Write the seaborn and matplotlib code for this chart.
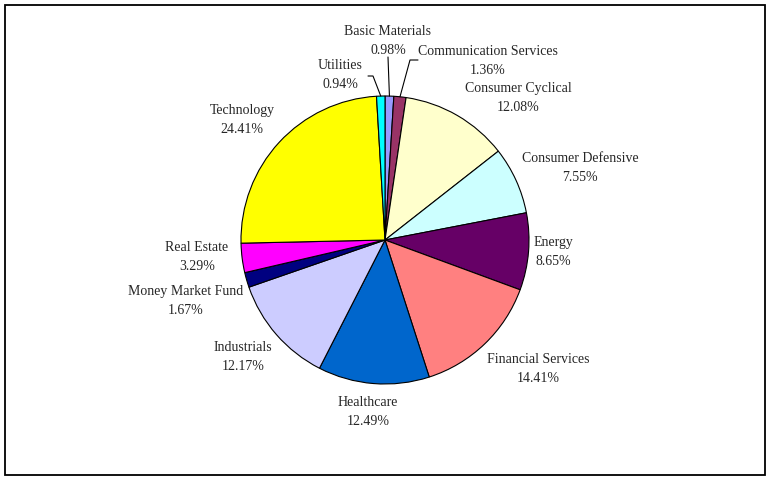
import matplotlib
matplotlib.use("Agg")
import numpy as np
import matplotlib.pyplot as plt
import seaborn as sns
from matplotlib.patches import Rectangle

sectors = ["Basic Materials", "Communication Services", "Consumer Cyclical",
           "Consumer Defensive", "Energy", "Financial Services", "Healthcare",
           "Industrials", "Money Market Fund", "Real Estate", "Technology",
           "Utilities"]
weights = [0.98, 1.36, 12.08, 7.55, 8.65, 14.41, 12.49, 12.17, 1.67, 3.29, 24.41, 0.94]
colors = ["#9999FF", "#993366", "#FFFFCC", "#CCFFFF", "#660066", "#FF8080",
          "#0066CC", "#CCCCFF", "#000080", "#FF00FF", "#FFFF00", "#00FFFF"]

# label centres in pixels (x from left, y from top)
label_px = [(388, 41), (488, 61), (518, 98), (580, 168), (553, 252), (538, 369),
            (368, 412), (243, 357), (186, 301), (197, 257), (242, 120), (340, 75)]
# leader lines for the thin slices: elbow points in pixels
leader_px = {"Basic Materials": [(388, 57)],
             "Communication Services": [(410, 60), (418, 60)],
             "Utilities": [(373, 76), (368, 76)]}

sns.set_style("white")
plt.rcParams['font.family'] = ['Liberation Serif', 'DejaVu Serif']

W, H = 770, 480
cx, cy, R = 385, 240, 144


def to_data(p):
    return (p[0] - cx) / R, (cy - p[1]) / R


fig = plt.figure(figsize=(W / 100, H / 100), dpi=100)
ax = fig.add_axes([0, 0, 1, 1])

wedges, _ = ax.pie(weights, colors=sns.color_palette(colors), startangle=90,
                   counterclock=False, radius=1.0,
                   wedgeprops=dict(edgecolor="black", linewidth=0.8))

for w, name, val, pos in zip(wedges, sectors, weights, label_px):
    tx, ty = to_data(pos)
    ax.text(tx, ty, f"{name}\n{val:.2f}%", ha="center", va="center",
            fontsize=10, linespacing=1.65)
    if name in leader_px:
        ang = np.deg2rad((w.theta1 + w.theta2) / 2)
        pts = [(np.cos(ang), np.sin(ang))] + [to_data(p) for p in leader_px[name]]
        xs, ys = zip(*pts)
        ax.plot(xs, ys, color="black", lw=0.8)

ax.set_xlim(-cx / R, (W - cx) / R)
ax.set_ylim(-(H - cy) / R, cy / R)
ax.set_aspect("equal")
ax.axis("off")

fig.patches.append(Rectangle((5 / W, 5 / H), 760 / W, 470 / H, transform=fig.transFigure,
                             fill=False, edgecolor="black", linewidth=1.3))

fig.savefig("out.png", dpi=100)
